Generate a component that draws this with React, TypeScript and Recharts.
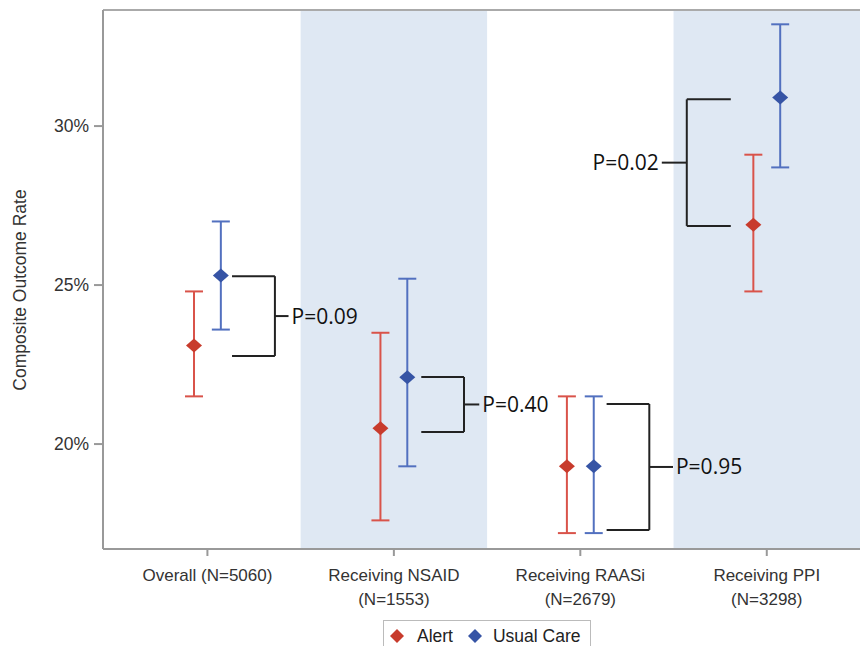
import React from 'react';
import {
  ComposedChart,
  Scatter,
  ErrorBar,
  XAxis,
  YAxis,
  ReferenceArea,
  ReferenceLine,
} from 'recharts';

const categories = ['Overall (N=5060)', 'Receiving NSAID|(N=1553)', 'Receiving RAASi|(N=2679)', 'Receiving PPI|(N=3298)'];

const alertRate = [23.1, 20.5, 19.3, 26.9];
const alertLow = [21.5, 17.6, 17.2, 24.8];
const alertHigh = [24.8, 23.5, 21.5, 29.1];

const usualRate = [25.3, 22.1, 19.3, 30.9];
const usualLow = [23.6, 19.3, 17.2, 28.7];
const usualHigh = [27.0, 25.2, 21.5, 33.2];

const pValues = ['P=0.09', 'P=0.40', 'P=0.95', 'P=0.02'];
const yTicks = [20, 25, 30];

// bracket ends (y in % units) per group
const bracketTop = [25.28, 22.11, 21.26, 30.84];
const bracketBottom = [22.77, 20.38, 17.3, 26.86];

// bracket geometry in x-axis units: [start, spine, tickEnd]
const bracketX = [
  [0.632, 0.862, 0.935],
  [1.647, 1.876, 1.958],
  [2.641, 2.87, 2.997],
  [3.307, 3.071, 2.937],
];

const RED = '#c83b2c';
const RED_BAR = '#d9534a';
const BLUE = '#3654a5';
const BLUE_BAR = '#5270bf';
const FONT = 'Liberation Sans, Arial, sans-serif';
const PFONT = 'Open Sans, sans-serif';

const alertData = categories.map((c, i) => ({
  x: i + 0.5 - 0.072,
  y: alertRate[i],
  err: [alertRate[i] - alertLow[i], alertHigh[i] - alertRate[i]],
}));
const usualData = categories.map((c, i) => ({
  x: i + 0.5 + 0.072,
  y: usualRate[i],
  err: [usualRate[i] - usualLow[i], usualHigh[i] - usualRate[i]],
}));

const Diamond = (color: string) => (props: any) => {
  const { cx, cy } = props;
  return <path d={`M${cx},${cy - 7} L${cx + 8},${cy} L${cx},${cy + 7} L${cx - 8},${cy} Z`} fill={color} />;
};

const XTick = (props: any) => {
  const { x, y, payload } = props;
  const idx = Math.round(payload.value - 0.5);
  const lines = (categories[idx] || '').split('|');
  return (
    <g transform={`translate(${x},${y})`}>
      {lines.map((l, k) => (
        <text key={k} x={0} y={23 + k * 24} textAnchor="middle" fontSize={17} fill="#333" fontFamily={FONT}>
          {l}
        </text>
      ))}
    </g>
  );
};

const YLabel = () => (
  <text x={20} y={290} transform="rotate(-90 20 290)" textAnchor="middle" dominantBaseline="central" fontSize={17.5} fill="#333" fontFamily={FONT}>
    Composite Outcome Rate
  </text>
);

export default function App() {
  return (
    <div style={{ position: 'absolute', left: 0, top: 0, width: 861, height: 646, background: '#fff' }}>
      <ComposedChart width={861} height={646} margin={{ top: 10, right: 1, bottom: 0, left: 0 }}>
        <ReferenceArea x1={1} x2={2} y1={16.7} y2={33.65} fill="#dfe8f3" fillOpacity={1} stroke="none" />
        <ReferenceArea x1={3} x2={4} y1={16.7} y2={33.65} fill="#dfe8f3" fillOpacity={1} stroke="none" />
        <XAxis
          dataKey="x"
          type="number"
          domain={[-0.06, 4]}
          ticks={[0.5, 1.5, 2.5, 3.5]}
          tick={<XTick />}
          tickSize={7}
          height={97}
          stroke="#999"
          strokeWidth={2}
          allowDataOverflow
        />
        <YAxis
          dataKey="y"
          type="number"
          domain={[16.7, 33.65]}
          ticks={yTicks}
          tickFormatter={(v: number) => `${v}%`}
          tick={{ fontSize: 17.5, fill: '#333', fontFamily: FONT }}
          tickSize={9}
          tickMargin={5}
          width={103}
          stroke="#999"
          strokeWidth={2}
          allowDataOverflow
          label={{ content: () => <YLabel /> }}
        />
        <ReferenceLine y={33.65} stroke="#aaa" strokeWidth={2} />
        {bracketX.map((bx, i) => {
          const mid = (bracketTop[i] + bracketBottom[i]) / 2;
          const right = bx[2] > bx[1];
          return (
            <React.Fragment key={`b${i}`}>
              <ReferenceLine segment={[{ x: bx[0], y: bracketTop[i] }, { x: bx[1], y: bracketTop[i] }]} stroke="#222" strokeWidth={2} />
              <ReferenceLine segment={[{ x: bx[0], y: bracketBottom[i] }, { x: bx[1], y: bracketBottom[i] }]} stroke="#222" strokeWidth={2} />
              <ReferenceLine segment={[{ x: bx[1], y: bracketTop[i] }, { x: bx[1], y: bracketBottom[i] }]} stroke="#222" strokeWidth={2} />
              <ReferenceLine
                segment={[{ x: bx[1], y: mid }, { x: bx[2], y: mid }]}
                stroke="#222"
                strokeWidth={2}
                label={{
                  value: pValues[i],
                  position: right ? 'right' : 'left',
                  offset: 3,
                  fontSize: 21,
                  fill: '#111',
                  fontFamily: PFONT,
                }}
              />
            </React.Fragment>
          );
        })}
        <Scatter name="Alert" data={alertData} shape={Diamond(RED)} isAnimationActive={false}>
          <ErrorBar dataKey="err" direction="y" width={9} stroke={RED_BAR} strokeWidth={2} />
        </Scatter>
        <Scatter name="Usual Care" data={usualData} shape={Diamond(BLUE)} isAnimationActive={false}>
          <ErrorBar dataKey="err" direction="y" width={9} stroke={BLUE_BAR} strokeWidth={2} />
        </Scatter>
      </ComposedChart>
      <div
        style={{
          position: 'absolute',
          left: 383,
          top: 620,
          width: 208,
          height: 32,
          border: '1px solid #bbb',
          boxSizing: 'border-box',
          display: 'flex',
          alignItems: 'center',
          fontFamily: FONT,
          fontSize: 17.5,
          color: '#222',
        }}
      >
        <svg width={16} height={16} style={{ marginLeft: 5 }}>
          <path d="M8,1 L15,8 L8,15 L1,8 Z" fill={RED} />
        </svg>
        <span style={{ marginLeft: 12 }}>Alert</span>
        <svg width={16} height={16} style={{ marginLeft: 14 }}>
          <path d="M8,1 L15,8 L8,15 L1,8 Z" fill={BLUE} />
        </svg>
        <span style={{ marginLeft: 10 }}>Usual Care</span>
      </div>
    </div>
  );
}
